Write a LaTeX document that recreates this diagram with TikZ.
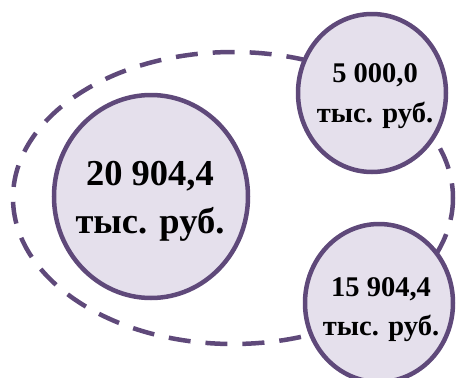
\documentclass[tikz,border=0pt]{standalone}
\usepackage{fontspec}
\setmainfont{Liberation Serif}
\usetikzlibrary{shapes.geometric}
\definecolor{edgepurple}{HTML}{5F497A}
\definecolor{fillpurple}{HTML}{E5E0EC}
\tikzset{
  bubble/.style={ellipse, draw=edgepurple, fill=fillpurple, line width=4.5pt, inner sep=0pt},
  bigtxt/.style={anchor=base, inner sep=0pt, font=\bfseries\fontsize{36.5}{40}\selectfont},
  smalltxt/.style={anchor=base, inner sep=0pt, font=\bfseries\fontsize{28.5}{32}\selectfont},
  ring/.style={draw=edgepurple, line width=4.5pt, dash pattern=on 22pt off 15pt}
}
\begin{document}
\begin{tikzpicture}[x=1pt,y=-1pt]
\useasboundingbox (0,0) rectangle (456,378);
\clip (0,0) rectangle (456,378);
\draw[ring] (233,198) ellipse [x radius=220, y radius=146];
\node[bubble, minimum width=194pt, minimum height=203pt] (big) at (151,196.5) {};
\node[bubble, minimum width=148pt, minimum height=158pt] (top) at (372,93) {};
\node[bubble, minimum width=148pt, minimum height=158pt] (bot) at (379,303) {};
\node[bigtxt] (bigA) at (150,185) {20 904,4};
\node[bigtxt] (bigB) at (150,233) {тыс. руб.};
\node[smalltxt] (topA) at (375,82) {5 000,0};
\node[smalltxt] (topB) at (375,122) {тыс. руб.};
\node[smalltxt] (botA) at (381,296) {15 904,4};
\node[smalltxt] (botB) at (381,335) {тыс. руб.};
\end{tikzpicture}
\end{document}
